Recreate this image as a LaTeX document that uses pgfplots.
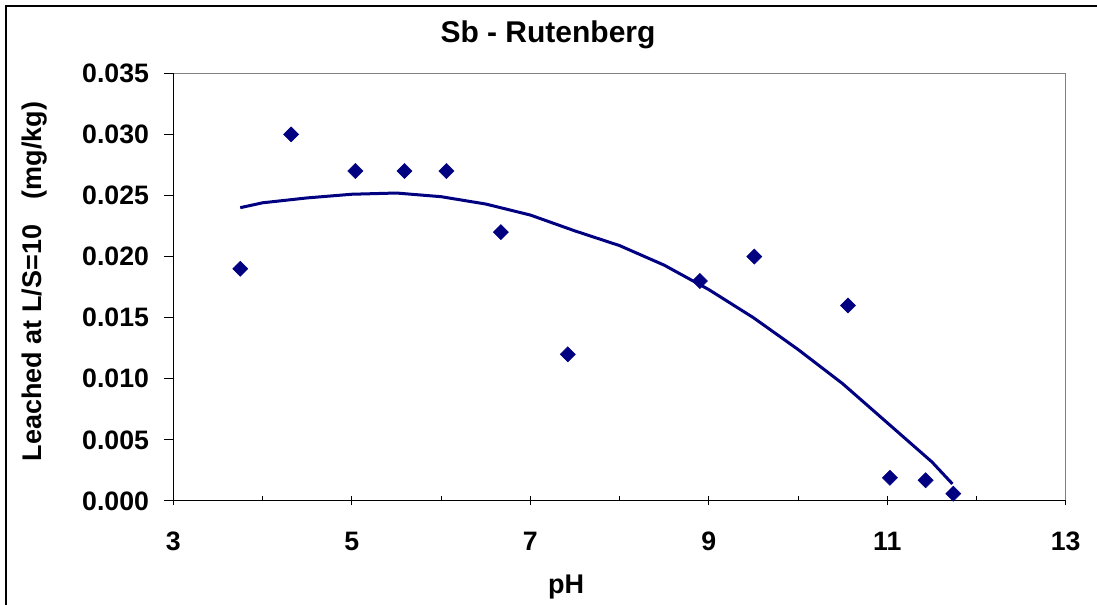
\documentclass[border=0pt]{standalone}
\usepackage{pgfplots}
\pgfplotsset{compat=1.18}
\usepackage{fontspec}
\setmainfont{Liberation Sans}
\definecolor{navy}{RGB}{0,0,128}
\begin{document}
\begin{tikzpicture}
\useasboundingbox (0,0) rectangle (822.75pt,453.75pt);
\draw[line width=1.5pt] (4.5pt,-20pt) |- (840pt,449.25pt);
\node[anchor=base, font=\bfseries\fontsize{22.5pt}{26pt}\selectfont] at (411pt,421.5pt) {Sb - Rutenberg};
\node[anchor=base, font=\bfseries\fontsize{20.25pt}{24pt}\selectfont] at (424.5pt,8.25pt) {pH};
\node[anchor=base, rotate=90, font=\bfseries\fontsize{20.25pt}{24pt}\selectfont] at (31.3pt,242.6pt) {Leached at L/S=10\hspace{19pt}(mg/kg)};
\begin{axis}[
  at={(130pt,78pt)}, anchor=south west,
  scale only axis, width=669.3pt, height=320.8pt,
  xmin=3, xmax=13, ymin=0, ymax=0.035,
  xtick={3,5,7,9,11,13}, minor x tick num=1,
  ytick={0,0.005,0.01,0.015,0.02,0.025,0.03,0.035},
  xtick pos=bottom, ytick pos=left,
  tick align=outside,
  major tick length=6.75pt, minor tick length=3.75pt,
  tick style={black, line width=0.75pt},
  major x tick style={yshift=3.5pt},
  minor x tick style={yshift=3.75pt},
  axis line style={draw=gray, line width=0.75pt},
  scaled y ticks=false,
  yticklabel style={/pgf/number format/.cd, fixed, fixed zerofill, precision=3, /tikz/.cd, xshift=-8pt},
  xticklabel style={yshift=-13pt},
  /pgf/number format/assume math mode=true,
  tick label style={font=\bfseries\fontsize{20pt}{22pt}\selectfont},
  clip=false,
]
\draw[black, line width=0.75pt] (rel axis cs:0,1) -- (rel axis cs:0,0) -- (rel axis cs:1,0);
\addplot[navy, line width=2.25pt, mark=none] coordinates {
(3.75,0.0240) (4.0,0.0244) (4.5,0.0248) (5.0,0.0251) (5.5,0.0252) (6.0,0.0249)
(6.5,0.0243) (7.0,0.0234) (7.5,0.0221) (8.0,0.0209) (8.5,0.0193) (9.0,0.0173)
(9.5,0.0150) (10.0,0.0124) (10.5,0.0096) (11.0,0.0064) (11.5,0.0032) (11.73,0.0014)
};
\addplot[only marks, mark=square*, mark size=4pt, mark options={rotate=45, fill=navy, draw=navy}] coordinates {
(3.75,0.019) (4.32,0.030) (5.04,0.027) (5.59,0.027) (6.06,0.027) (6.67,0.022)
(7.42,0.012) (8.90,0.018) (9.51,0.020) (10.56,0.016) (11.03,0.0019) (11.43,0.0017) (11.74,0.0006)
};
\end{axis}
\end{tikzpicture}
\end{document}
